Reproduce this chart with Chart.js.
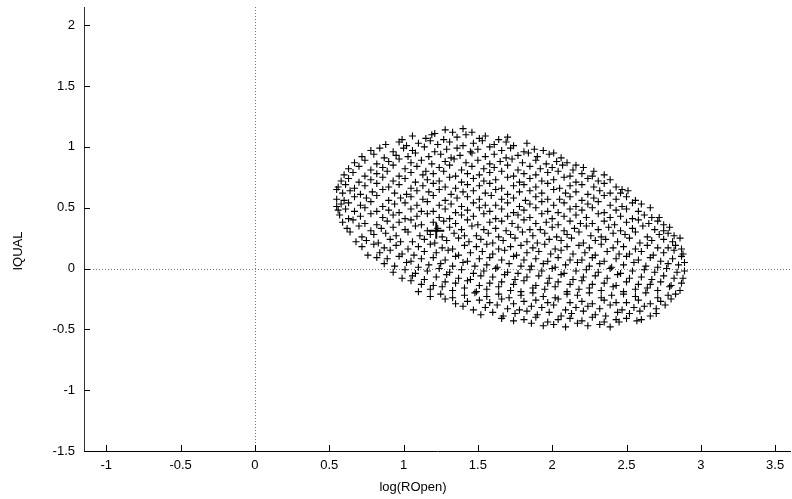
<!DOCTYPE html>
<html><head><meta charset="utf-8">
<script src="https://cdn.jsdelivr.net/npm/chart.js@4/dist/chart.umd.min.js"></script>
<style>html,body{margin:0;padding:0;background:#fff}#wrap{width:792px;height:499px}</style>
</head><body><div id="wrap"><canvas id="c" width="792" height="499"></canvas></div>
<script>
const xTickValues = [-1, -0.5, 0, 0.5, 1, 1.5, 2, 2.5, 3, 3.5];
const yTickValues = [-1.5, -1, -0.5, 0, 0.5, 1, 1.5, 2];
const xAxisTitle = 'log(ROpen)';
const yAxisTitle = 'IQUAL';
const centreX = [1.22];
const centreY = [0.31];
const logROpen = [
1.21,1.28,1.33,1.40,1.46,
0.99,1.06,1.15,1.19,1.27,1.36,1.42,1.51,1.55,1.64,1.70,
0.88,0.97,1.02,1.10,1.18,1.23,1.31,1.40,1.47,1.53,1.61,1.69,1.74,1.83,
0.78,0.84,0.93,1.00,1.06,1.14,1.21,1.29,1.36,1.45,1.50,1.58,1.66,1.72,1.81,1.88,1.94,2.01,
0.72,0.80,0.87,0.95,1.03,1.08,1.17,1.25,1.32,1.38,1.46,1.55,1.61,1.69,1.77,1.84,1.90,1.98,2.06,
0.67,0.74,0.82,0.90,0.97,1.05,1.12,1.19,1.28,1.34,1.42,1.50,1.58,1.65,1.73,1.80,1.89,1.96,2.03,2.10,2.16,
0.63,0.70,0.78,0.86,0.93,1.01,1.09,1.15,1.24,1.31,1.39,1.46,1.54,1.61,1.70,1.77,1.85,1.92,2.00,2.07,2.14,2.21,2.28,
0.60,0.66,0.74,0.82,0.89,0.97,1.05,1.13,1.20,1.27,1.35,1.43,1.51,1.58,1.66,1.74,1.81,1.89,1.97,2.04,2.12,2.20,2.27,2.35,
0.58,0.63,0.70,0.78,0.86,0.93,1.01,1.08,1.16,1.24,1.31,1.39,1.47,1.54,1.62,1.70,1.78,1.85,1.93,2.01,2.08,2.16,2.24,2.31,2.39,
0.56,0.61,0.67,0.74,0.82,0.90,0.97,1.05,1.13,1.20,1.28,1.35,1.43,1.51,1.58,1.66,1.74,1.81,1.89,1.97,2.05,2.12,2.20,2.28,2.35,2.43,2.47,
0.55,0.59,0.64,0.71,0.79,0.86,0.94,1.02,1.09,1.17,1.24,1.32,1.40,1.47,1.55,1.62,1.70,1.78,1.85,1.93,2.01,2.09,2.16,2.24,2.32,2.39,2.46,2.51,
0.55,0.60,0.67,0.75,0.82,0.90,0.98,1.05,1.13,1.20,1.28,1.36,1.43,1.51,1.59,1.66,1.74,1.82,1.89,1.97,2.05,2.12,2.20,2.28,2.35,2.43,2.50,2.56,
0.55,0.58,0.63,0.71,0.78,0.86,0.94,1.01,1.09,1.16,1.24,1.32,1.39,1.47,1.55,1.62,1.70,1.78,1.85,1.93,2.01,2.08,2.16,2.24,2.31,2.39,2.47,2.54,2.60,
0.56,0.61,0.67,0.74,0.82,0.90,0.97,1.05,1.12,1.20,1.28,1.35,1.43,1.51,1.58,1.66,1.74,1.81,1.89,1.97,2.04,2.12,2.20,2.27,2.35,2.43,2.50,2.58,2.66,
0.57,0.63,0.71,0.78,0.86,0.93,1.01,1.09,1.16,1.24,1.31,1.39,1.47,1.54,1.62,1.70,1.77,1.85,1.93,2.00,2.08,2.16,2.23,2.31,2.39,2.46,2.54,2.62,2.67,2.72,
0.59,0.66,0.74,0.82,0.89,0.97,1.05,1.12,1.20,1.27,1.35,1.43,1.50,1.58,1.66,1.73,1.81,1.89,1.96,2.04,2.12,2.19,2.27,2.35,2.42,2.50,2.58,2.65,2.71,2.75,
0.62,0.70,0.78,0.85,0.93,1.01,1.08,1.16,1.23,1.31,1.39,1.46,1.54,1.62,1.69,1.77,1.85,1.92,2.00,2.08,2.15,2.23,2.31,2.38,2.46,2.54,2.61,2.69,2.75,2.79,
0.64,0.72,0.80,0.88,0.95,1.03,1.11,1.18,1.26,1.34,1.41,1.49,1.57,1.64,1.72,1.80,1.87,1.95,2.03,2.10,2.18,2.26,2.33,2.41,2.49,2.56,2.64,2.72,2.78,2.82,
0.68,0.75,0.83,0.91,0.98,1.06,1.14,1.21,1.29,1.37,1.44,1.52,1.60,1.67,1.75,1.83,1.90,1.98,2.06,2.13,2.21,2.29,2.36,2.44,2.52,2.59,2.67,2.75,2.81,2.86,
0.72,0.80,0.87,0.95,1.03,1.10,1.18,1.26,1.33,1.41,1.49,1.56,1.64,1.72,1.79,1.87,1.95,2.02,2.10,2.18,2.25,2.33,2.41,2.48,2.56,2.64,2.71,2.78,2.83,2.87,
0.76,0.84,0.91,0.99,1.07,1.14,1.22,1.30,1.37,1.45,1.53,1.60,1.68,1.76,1.83,1.91,1.99,2.06,2.14,2.22,2.29,2.37,2.45,2.52,2.60,2.68,2.75,2.82,2.88,
0.82,0.89,0.97,1.05,1.12,1.20,1.28,1.35,1.43,1.51,1.58,1.66,1.74,1.81,1.89,1.97,2.04,2.12,2.20,2.27,2.35,2.43,2.50,2.58,2.66,2.73,2.81,2.87,
0.87,0.94,1.02,1.10,1.17,1.25,1.33,1.40,1.48,1.56,1.63,1.71,1.79,1.86,1.94,2.02,2.09,2.17,2.25,2.32,2.40,2.48,2.55,2.63,2.71,2.78,2.85,2.89,
0.93,1.01,1.08,1.16,1.24,1.31,1.39,1.47,1.54,1.62,1.70,1.77,1.85,1.93,2.00,2.08,2.16,2.23,2.31,2.39,2.46,2.54,2.62,2.69,2.77,2.84,2.89,
0.99,1.06,1.14,1.22,1.29,1.37,1.45,1.52,1.60,1.68,1.75,1.83,1.91,1.98,2.06,2.14,2.21,2.29,2.37,2.44,2.52,2.60,2.67,2.75,2.82,2.88,
1.05,1.12,1.20,1.28,1.35,1.43,1.51,1.58,1.66,1.74,1.81,1.89,1.97,2.04,2.12,2.20,2.27,2.35,2.43,2.50,2.58,2.66,2.73,2.80,2.87,
1.10,1.18,1.26,1.33,1.41,1.49,1.56,1.64,1.72,1.79,1.87,1.95,2.02,2.10,2.18,2.25,2.33,2.41,2.48,2.56,2.64,2.71,2.79,2.86,
1.18,1.25,1.33,1.41,1.48,1.56,1.64,1.71,1.79,1.87,1.94,2.02,2.10,2.17,2.25,2.33,2.40,2.48,2.56,2.63,2.71,2.78,2.83,
1.28,1.35,1.43,1.51,1.58,1.66,1.74,1.81,1.89,1.97,2.04,2.12,2.20,2.27,2.35,2.43,2.50,2.58,2.66,2.73,2.80,
1.40,1.47,1.55,1.63,1.70,1.78,1.86,1.93,2.01,2.09,2.16,2.24,2.32,2.39,2.47,2.55,2.62,2.70,2.76,
1.52,1.60,1.67,1.75,1.83,1.90,1.98,2.06,2.13,2.21,2.29,2.36,2.44,2.52,2.59,2.66,2.70,
1.66,1.74,1.81,1.89,1.97,2.04,2.12,2.20,2.27,2.35,2.43,2.50,2.57,2.60,
1.86,1.94,2.01,2.09,2.17,2.24,2.32,2.39,2.45
];
const iqual = [
1.11,1.14,1.12,1.15,1.12,
1.06,1.09,1.07,1.10,1.06,1.08,1.10,1.07,1.09,1.06,1.08,
1.02,1.04,1.01,1.03,1.05,1.02,1.04,1.01,1.03,1.05,1.02,1.04,1.01,1.03,
0.97,0.99,0.96,0.99,0.97,1.00,0.96,0.98,0.99,0.96,0.98,1.00,0.97,0.99,0.96,0.98,0.97,0.95,
0.92,0.94,0.91,0.93,0.92,0.95,0.92,0.94,0.91,0.93,0.95,0.92,0.94,0.91,0.93,0.95,0.92,0.94,0.91,
0.87,0.89,0.86,0.88,0.90,0.87,0.89,0.86,0.88,0.90,0.87,0.89,0.86,0.88,0.90,0.87,0.89,0.86,0.88,0.87,0.85,
0.82,0.84,0.81,0.83,0.85,0.82,0.84,0.80,0.83,0.85,0.81,0.84,0.82,0.83,0.85,0.81,0.84,0.82,0.83,0.85,0.81,0.83,0.80,
0.77,0.79,0.76,0.78,0.80,0.76,0.79,0.77,0.78,0.80,0.76,0.78,0.77,0.79,0.80,0.76,0.78,0.77,0.79,0.80,0.76,0.78,0.76,0.77,
0.72,0.74,0.71,0.73,0.75,0.72,0.74,0.71,0.73,0.72,0.75,0.71,0.74,0.72,0.73,0.75,0.71,0.74,0.72,0.73,0.75,0.71,0.74,0.72,0.73,
0.67,0.69,0.66,0.68,0.70,0.67,0.69,0.66,0.68,0.70,0.67,0.66,0.69,0.68,0.70,0.66,0.68,0.69,0.67,0.70,0.66,0.68,0.69,0.67,0.70,0.67,0.65,
0.65,0.62,0.64,0.61,0.63,0.65,0.62,0.61,0.64,0.63,0.65,0.61,0.63,0.64,0.62,0.65,0.61,0.63,0.64,0.62,0.65,0.62,0.63,0.61,0.64,0.62,0.62,0.64,
0.57,0.56,0.59,0.58,0.60,0.56,0.58,0.59,0.57,0.60,0.56,0.58,0.59,0.57,0.60,0.57,0.58,0.56,0.59,0.57,0.57,0.59,0.56,0.58,0.60,0.57,0.59,0.56,
0.51,0.53,0.54,0.52,0.55,0.51,0.53,0.54,0.52,0.55,0.52,0.53,0.51,0.54,0.52,0.52,0.54,0.51,0.53,0.55,0.52,0.54,0.51,0.53,0.55,0.52,0.51,0.54,0.53,
0.48,0.49,0.47,0.50,0.47,0.48,0.46,0.49,0.47,0.47,0.49,0.46,0.48,0.50,0.47,0.49,0.46,0.48,0.50,0.47,0.46,0.49,0.48,0.50,0.46,0.48,0.49,0.47,0.50,
0.44,0.41,0.43,0.45,0.42,0.44,0.41,0.43,0.45,0.42,0.41,0.44,0.43,0.45,0.41,0.43,0.44,0.42,0.45,0.41,0.43,0.44,0.42,0.45,0.42,0.43,0.41,0.44,0.42,0.42,
0.38,0.40,0.37,0.36,0.39,0.38,0.40,0.36,0.38,0.39,0.37,0.40,0.36,0.38,0.39,0.37,0.40,0.37,0.38,0.36,0.39,0.37,0.37,0.39,0.36,0.38,0.40,0.37,0.39,0.36,
0.33,0.35,0.31,0.33,0.34,0.32,0.35,0.31,0.33,0.34,0.32,0.35,0.32,0.33,0.31,0.34,0.32,0.32,0.34,0.31,0.33,0.35,0.32,0.34,0.31,0.33,0.35,0.32,0.31,0.34,
0.30,0.26,0.28,0.29,0.27,0.30,0.27,0.28,0.26,0.29,0.27,0.27,0.29,0.26,0.28,0.30,0.27,0.29,0.26,0.28,0.30,0.27,0.26,0.29,0.28,0.30,0.26,0.28,0.29,0.27,
0.22,0.23,0.21,0.24,0.22,0.22,0.24,0.21,0.23,0.25,0.22,0.24,0.21,0.23,0.25,0.22,0.21,0.24,0.23,0.25,0.21,0.23,0.24,0.22,0.25,0.21,0.23,0.24,0.22,0.25,
0.18,0.20,0.17,0.19,0.16,0.18,0.20,0.17,0.16,0.19,0.18,0.20,0.16,0.18,0.19,0.17,0.20,0.16,0.18,0.19,0.17,0.20,0.17,0.18,0.16,0.19,0.17,0.17,0.19,0.16,
0.11,0.13,0.15,0.12,0.11,0.14,0.13,0.15,0.11,0.13,0.14,0.12,0.15,0.11,0.13,0.14,0.12,0.15,0.12,0.13,0.11,0.14,0.12,0.12,0.14,0.11,0.13,0.15,0.12,
0.09,0.08,0.10,0.06,0.08,0.09,0.07,0.10,0.06,0.08,0.09,0.07,0.10,0.07,0.08,0.06,0.09,0.07,0.07,0.09,0.06,0.08,0.10,0.07,0.09,0.06,0.08,0.10,
0.04,0.02,0.05,0.01,0.03,0.04,0.02,0.05,0.02,0.03,0.01,0.04,0.02,0.02,0.04,0.01,0.03,0.05,0.02,0.04,0.01,0.03,0.05,0.02,0.01,0.04,0.03,0.05,
-0.03,-0.01,-0.04,-0.02,0.00,-0.03,-0.01,-0.04,-0.02,0.00,-0.03,-0.04,-0.01,-0.02,0.00,-0.04,-0.02,-0.01,-0.03,0.00,-0.04,-0.02,-0.01,-0.03,0.00,-0.03,-0.02,
-0.08,-0.06,-0.09,-0.07,-0.05,-0.08,-0.09,-0.06,-0.07,-0.05,-0.09,-0.07,-0.06,-0.08,-0.05,-0.09,-0.07,-0.06,-0.08,-0.05,-0.08,-0.07,-0.09,-0.06,-0.08,-0.08,
-0.10,-0.13,-0.14,-0.11,-0.12,-0.10,-0.14,-0.12,-0.11,-0.13,-0.10,-0.14,-0.12,-0.11,-0.13,-0.10,-0.13,-0.12,-0.14,-0.11,-0.13,-0.13,-0.11,-0.14,-0.12,
-0.19,-0.17,-0.15,-0.18,-0.16,-0.19,-0.17,-0.15,-0.18,-0.19,-0.16,-0.17,-0.15,-0.19,-0.17,-0.16,-0.18,-0.15,-0.19,-0.17,-0.16,-0.18,-0.15,-0.18,
-0.23,-0.21,-0.24,-0.22,-0.20,-0.23,-0.21,-0.24,-0.22,-0.20,-0.23,-0.24,-0.21,-0.22,-0.20,-0.24,-0.22,-0.21,-0.23,-0.20,-0.24,-0.22,-0.21,
-0.25,-0.29,-0.27,-0.26,-0.28,-0.25,-0.29,-0.27,-0.26,-0.28,-0.25,-0.28,-0.27,-0.29,-0.26,-0.28,-0.28,-0.26,-0.29,-0.27,-0.25,
-0.31,-0.34,-0.32,-0.30,-0.33,-0.34,-0.31,-0.32,-0.30,-0.34,-0.32,-0.31,-0.33,-0.30,-0.34,-0.32,-0.31,-0.33,-0.30,
-0.38,-0.36,-0.39,-0.37,-0.35,-0.38,-0.36,-0.39,-0.37,-0.35,-0.38,-0.39,-0.36,-0.37,-0.35,-0.39,-0.37,
-0.41,-0.43,-0.42,-0.40,-0.44,-0.42,-0.41,-0.43,-0.40,-0.44,-0.42,-0.41,-0.43,-0.42,
-0.45,-0.47,-0.46,-0.48,-0.45,-0.47,-0.46,-0.48,-0.44
];

const n = Math.min(logROpen.length, iqual.length);
const cloud = [];
for (let i = 0; i < n; i++) cloud.push({x: logROpen[i], y: iqual[i]});
const centre = centreX.map((v, i) => ({x: v, y: centreY[i]}));

const FONT = "'Liberation Sans', Arial, sans-serif";
const noPad = () => ({left: 0, top: 0, right: 0, bottom: 0});

const refLines = {
  id: 'refLines',
  beforeDatasetsDraw(chart) {
    const {ctx, chartArea: a, scales: {x, y}} = chart;
    ctx.save();
    ctx.strokeStyle = '#777';
    ctx.lineWidth = 1;
    ctx.setLineDash([1, 2]);
    const px = Math.round(x.getPixelForValue(0)) + 0.5;
    const py = Math.round(y.getPixelForValue(0)) + 0.5;
    ctx.beginPath(); ctx.moveTo(px, a.top); ctx.lineTo(px, a.bottom); ctx.stroke();
    ctx.beginPath(); ctx.moveTo(a.left, py); ctx.lineTo(a.right, py); ctx.stroke();
    ctx.restore();
  },
  afterDraw(chart) {
    const {ctx, chartArea: a, scales: {x, y}} = chart;
    ctx.save();
    ctx.strokeStyle = '#000';
    ctx.lineWidth = 1;
    x.ticks.forEach(t => {
      const p = Math.round(x.getPixelForValue(t.value)) + 0.5;
      ctx.beginPath(); ctx.moveTo(p, a.bottom); ctx.lineTo(p, a.bottom - 6); ctx.stroke();
    });
    y.ticks.forEach(t => {
      const p = Math.round(y.getPixelForValue(t.value)) + 0.5;
      ctx.beginPath(); ctx.moveTo(a.left, p); ctx.lineTo(a.left + 6, p); ctx.stroke();
    });
    ctx.fillStyle = '#000';
    ctx.font = "13px " + FONT;
    ctx.textAlign = 'center';
    ctx.textBaseline = 'middle';
    ctx.fillText(xAxisTitle, 413, 487);
    ctx.save();
    ctx.translate(18, 251);
    ctx.rotate(-Math.PI / 2);
    ctx.fillText(yAxisTitle, 0, 0);
    ctx.restore();
    ctx.restore();
  }
};

new Chart(document.getElementById('c'), {
  type: 'scatter',
  data: {
    datasets: [
      {data: cloud, pointStyle: 'cross', pointRadius: 3.5, pointBorderWidth: 1.1,
       borderColor: '#000', backgroundColor: '#000', pointHoverRadius: 3.5},
      {data: centre, pointStyle: 'cross', pointRadius: 8, pointBorderWidth: 2,
       borderColor: '#000', backgroundColor: '#000'}
    ]
  },
  options: {
    responsive: false,
    animation: false,
    events: [],
    layout: {autoPadding: false, padding: {top: 7, right: 2, left: 0, bottom: 0}},
    plugins: {legend: {display: false}, tooltip: {enabled: false}},
    scales: {
      x: {
        type: 'linear', min: -1.15, max: 3.60,
        afterBuildTicks: s => { s.ticks = xTickValues.map(v => ({value: v})); },
        afterFit: s => { s.height = 48; s.paddingLeft = 0; s.paddingRight = 0; s.getPadding = noPad; },
        grid: {display: false, drawTicks: false},
        border: {display: true, color: '#000', width: 1},
        ticks: {color: '#000', font: {family: FONT, size: 13}, padding: 7, maxRotation: 0,
                callback: v => String(v)},
        title: {display: false}
      },
      y: {
        type: 'linear', min: -1.5, max: 2.15,
        afterBuildTicks: s => { s.ticks = yTickValues.map(v => ({value: v})); },
        afterFit: s => { s.width = 84; s.paddingTop = 0; s.paddingBottom = 0; s.getPadding = noPad; },
        grid: {display: false, drawTicks: false},
        border: {display: true, color: '#333', width: 1},
        ticks: {color: '#000', font: {family: FONT, size: 13}, padding: 9,
                callback: v => String(v)},
        title: {display: false}
      }
    }
  },
  plugins: [refLines]
});
</script>
</body></html>
